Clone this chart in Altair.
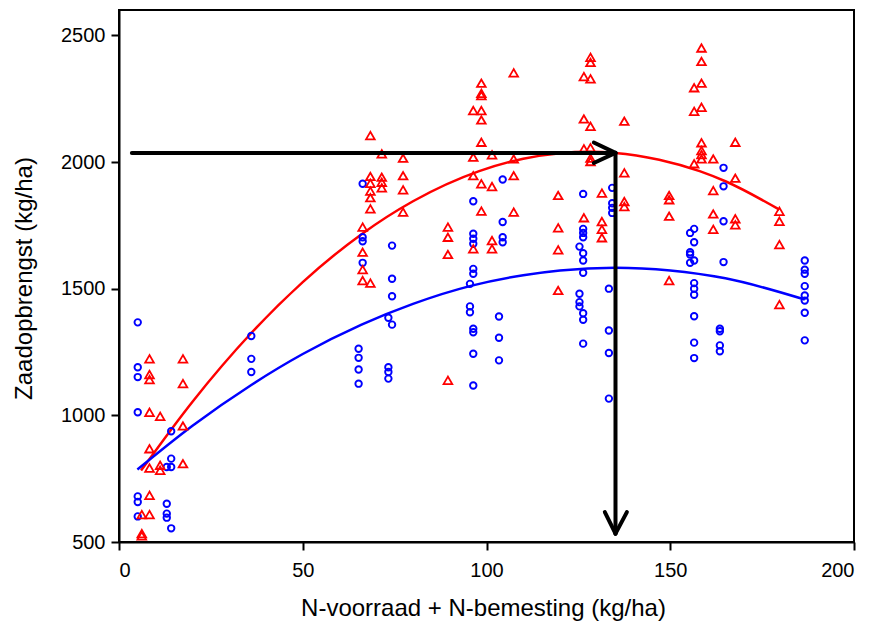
import altair as alt
import pandas as pd

# ---- data ----
# red triangles: x positions and y values per column
red_cols = [6.2, 8.3, 11.2, 17.4, 66.3, 68.4, 71.5, 77.3, 89.5, 96.4, 98.6, 101.5,
            107.4, 119.5, 126.5, 128.3, 131.4, 137.5, 149.7, 156.5, 158.5, 161.7,
            167.7, 179.7]
red_vals = [
    [608, 533, 524],
    [1223, 1161, 1141, 1012, 868, 792, 684, 608],
    [996, 803, 783],
    [1223, 1125, 958, 809],
    [1743, 1644, 1575, 1532],
    [2104, 1943, 1916, 1885, 1859, 1815, 1522],
    [2032, 1940, 1920, 1898],
    [2015, 1946, 1890, 1802],
    [1743, 1703, 1635, 1138],
    [2203, 2019, 1946, 1657],
    [2311, 2271, 2262, 2203, 2166, 2078, 1914, 1806],
    [2028, 1903, 1690, 1657],
    [2352, 2012, 1946, 1802],
    [1868, 1740, 1653, 1493],
    [2337, 2170, 2052, 1780],
    [2413, 2393, 2328, 2141, 2056, 2015, 2002],
    [1877, 1765, 1734, 1701],
    [2161, 1957, 1844, 1824],
    [1868, 1851, 1786, 1532],
    [2293, 2200, 1993],
    [2450, 2397, 2311, 2216, 2076, 2045, 2029, 2012],
    [2012, 1887, 1795, 1734],
    [2078, 1936, 1776, 1752],
    [1805, 1766, 1674, 1437],
]

# blue circles
blue_cols = [5.1, 13.0, 14.2, 36.0, 65.2, 66.3, 73.3, 74.3, 95.5, 96.4, 103.4, 104.4,
             125.3, 126.3, 133.3, 134.2, 155.4, 156.5, 163.5, 164.5, 186.6]
blue_vals = [
    [1367, 1190, 1151, 1012, 680, 658, 601],
    [796, 651, 612, 596],
    [937, 829, 796, 554],
    [1313, 1223, 1171],
    [1263, 1227, 1181, 1125],
    [1914, 1703, 1687, 1602],
    [1385, 1190, 1171, 1145],
    [1670, 1539, 1470, 1358],
    [1519, 1430, 1407],
    [1845, 1717, 1697, 1677, 1578, 1559, 1342, 1328, 1243, 1118],
    [1390, 1306, 1217],
    [1931, 1763, 1703, 1683],
    [1666, 1480, 1447, 1430],
    [1874, 1736, 1720, 1703, 1640, 1611, 1563, 1403, 1377, 1283],
    [1500, 1335, 1246, 1066],
    [1898, 1837, 1819, 1799],
    [1720, 1644, 1635, 1602],
    [1736, 1683, 1611, 1522, 1500, 1476, 1391, 1287, 1226],
    [1342, 1332, 1276, 1253],
    [1977, 1904, 1766, 1605],
    [1611, 1575, 1559, 1510, 1473, 1453, 1405, 1296],
]

# fitted curves
red_curve_x = [6, 20, 36, 50, 66, 80, 98, 110, 120, 128, 135, 147, 158, 165, 179.7]
red_curve_y = [782, 1054, 1325, 1526, 1715, 1845, 1964, 2013, 2035, 2040, 2036, 2009, 1964, 1924, 1812]
blue_curve_x = [5, 20, 36, 50, 66, 80, 96, 110, 120, 135, 150, 165, 186.6]
blue_curve_y = [786, 959, 1120, 1242, 1358, 1440, 1512, 1553, 1572, 1583, 1572, 1541, 1457]

# arrow annotation segments (data units)
seg_x1 = [3.5, 135.1, 129.2, 129.2, 132.2, 138.2]
seg_y1 = [2036, 2036, 2077, 1996, 618, 618]
seg_x2 = [135.1, 135.1, 135.1, 135.1, 135.1, 135.1]
seg_y2 = [2036, 533, 2036, 2036, 533, 533]

x_ticks = [0, 50, 100, 150, 200]
y_ticks = [500, 1000, 1500, 2000, 2500]

# ---- tables ----
red_df = pd.DataFrame([{"x": c, "y": v} for c, vs in zip(red_cols, red_vals) for v in vs])
blue_df = pd.DataFrame([{"x": c, "y": v} for c, vs in zip(blue_cols, blue_vals) for v in vs])
red_curve = pd.DataFrame({"x": red_curve_x, "y": red_curve_y})
blue_curve = pd.DataFrame({"x": blue_curve_x, "y": blue_curve_y})
seg_df = pd.DataFrame({"x": seg_x1, "y": seg_y1, "x2": seg_x2, "y2": seg_y2})

FONT = "Liberation Sans"

X = alt.X("x:Q",
          scale=alt.Scale(domain=[0, 200], nice=False, zero=False),
          axis=alt.Axis(values=x_ticks, format="d", title="N-voorraad + N-bemesting (kg/ha)",
                        grid=False, tickSize=8, tickWidth=2, tickColor="black",
                        domainColor="black", domainWidth=2,
                        labelFont=FONT, labelFontSize=20, labelColor="black",
                        labelPadding=10,
                        titleFont=FONT, titleFontSize=24, titleFontWeight="normal",
                        titleColor="black", titleX=364, titleY=66,
                        titleAlign="center", titleBaseline="middle"))
Y = alt.Y("y:Q",
          scale=alt.Scale(domain=[500, 2600], nice=False, zero=False),
          axis=alt.Axis(values=y_ticks, format="d", title="Zaadopbrengst (kg/ha)",
                        grid=False, tickSize=8, tickWidth=2, tickColor="black",
                        domainColor="black", domainWidth=2,
                        labelFont=FONT, labelFontSize=20, labelColor="black",
                        labelPadding=6,
                        titleFont=FONT, titleFontSize=24, titleFontWeight="normal",
                        titleColor="black", titleX=-95, titleY=268, titleAngle=270,
                        titleAlign="center", titleBaseline="middle"))

red_line = alt.Chart(red_curve).mark_line(color="#ff0000", strokeWidth=2.5,
                                          interpolate="monotone").encode(x=X, y=Y)
blue_line = alt.Chart(blue_curve).mark_line(color="#0000ff", strokeWidth=2.5,
                                            interpolate="monotone").encode(x=X, y=Y)
red_pts = alt.Chart(red_df).mark_point(shape="triangle-up", filled=False, color="#ff0000",
                                       size=75, strokeWidth=1.8, opacity=1).encode(x=X, y=Y)
blue_pts = alt.Chart(blue_df).mark_point(shape="circle", filled=False, color="#0000ff",
                                         size=42, strokeWidth=1.9, opacity=1).encode(x=X, y=Y)
arrows = alt.Chart(seg_df).mark_rule(color="black", strokeWidth=4, strokeCap="round").encode(
    x=X, y=Y, x2="x2:Q", y2="y2:Q")

chart = alt.layer(red_line, blue_line, blue_pts, red_pts, arrows).properties(
    width=735, height=532,
    padding={"left": 111, "top": 2, "right": 14, "bottom": 81},
    autosize="none",
    background="white",
).configure_view(stroke="black", strokeWidth=2)

chart.save("out.html", embed_options={"renderer": "svg", "actions": False})
